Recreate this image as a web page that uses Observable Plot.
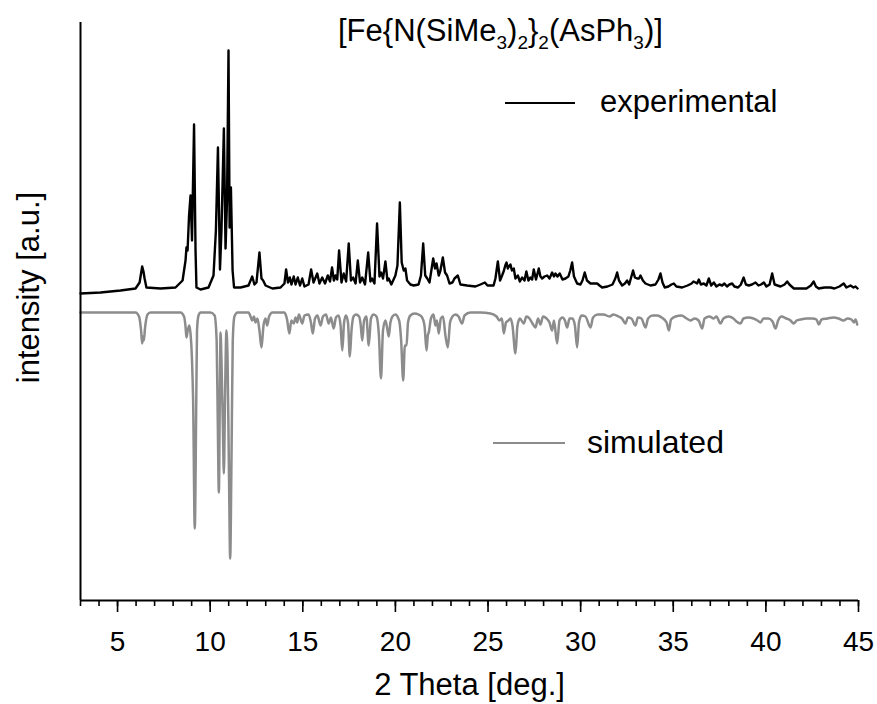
<!DOCTYPE html>
<html>
<head>
<meta charset="utf-8">
<script src="https://cdn.jsdelivr.net/npm/d3@7"></script>
<script src="https://cdn.jsdelivr.net/npm/@observablehq/plot@0.6"></script>
<style>
  html, body { margin: 0; padding: 0; background: #fff; }
  #wrap { position: relative; width: 877px; height: 704px; font-family: "Liberation Sans", Arial, sans-serif; color: #000; }
  .ovl { position: absolute; white-space: nowrap; line-height: 1; }
  .title { font-size: 31px; }
  .title sub { font-size: 19px; vertical-align: -8px; line-height: 0; }
  .leg { font-size: 31px; }
  .swatch { position: absolute; height: 2px; }
</style>
</head>
<body>
<div id="wrap">
  <div id="chart"></div>
  <div class="ovl title" style="left:338px; top:15px;">[Fe{N(SiMe<sub>3</sub>)<sub>2</sub>}<sub>2</sub>(AsPh<sub>3</sub>)]</div>
  <div class="swatch" style="left:505px; top:102px; width:70px; background:#000;"></div>
  <div class="ovl leg" id="legExp" style="left:600px; top:86px;"></div>
  <div class="swatch" style="left:493px; top:442px; width:72px; background:#8c8c8c;"></div>
  <div class="ovl leg" id="legSim" style="left:587px; top:426px; font-size:32px;"></div>
</div>
<script>
// ---- data: [2 theta (deg), intensity (a.u.)] ----
const seriesNames = ["experimental", "simulated"];

const experimental = [[3.00,307],[4.08,308],[5.16,310],[5.97,312],[6.19,318],[6.33,334],[6.40,329],[6.46,322],[6.56,313],[7.32,312],[8.13,313],[8.51,320],[8.67,340],[8.72,353],[8.78,350],[8.86,385],[8.94,405],[9.02,360],[9.13,476],[9.21,350],[9.26,313],[9.48,311],[9.91,313],[10.18,325],[10.31,370],[10.42,453],[10.53,331],[10.61,370],[10.74,472],[10.83,352],[10.91,400],[10.99,550],[11.05,373],[11.12,413],[11.21,330],[11.29,313],[11.64,313],[12.07,315],[12.27,324],[12.39,316],[12.50,318],[12.66,348],[12.77,322],[12.86,320],[12.99,315],[13.36,312],[13.80,313],[14.01,317],[14.10,331],[14.20,318],[14.30,323],[14.39,316],[14.51,324],[14.61,316],[14.73,323],[14.85,315],[14.97,322],[15.09,314],[15.31,316],[15.45,331],[15.58,318],[15.78,327],[15.90,317],[16.05,323],[16.20,317],[16.35,325],[16.47,319],[16.58,333],[16.68,320],[16.77,325],[16.86,321],[16.96,350],[17.09,318],[17.21,327],[17.34,319],[17.48,357],[17.60,320],[17.72,323],[17.85,317],[17.97,340],[18.09,318],[18.21,323],[18.36,316],[18.53,348],[18.65,319],[18.74,322],[18.87,317],[19.01,377],[19.14,324],[19.23,328],[19.33,322],[19.46,339],[19.57,320],[19.64,322],[19.78,316],[20.00,325],[20.11,335],[20.24,398],[20.34,338],[20.45,330],[20.54,332],[20.63,320],[20.81,316],[20.99,315],[21.25,316],[21.38,325],[21.50,357],[21.61,325],[21.72,322],[21.84,318],[22.04,342],[22.14,332],[22.22,337],[22.34,325],[22.43,330],[22.56,343],[22.68,328],[22.79,325],[22.92,317],[23.08,318],[23.19,322],[23.37,325],[23.51,316],[23.87,315],[24.32,314],[24.59,316],[24.83,318],[24.97,315],[25.30,315],[25.40,322],[25.53,339],[25.65,320],[25.76,325],[25.86,330],[25.93,335],[26.00,338],[26.07,332],[26.13,334],[26.21,336],[26.29,330],[26.39,332],[26.48,322],[26.61,325],[26.72,319],[26.84,323],[26.97,320],[27.07,329],[27.18,320],[27.29,323],[27.38,321],[27.47,331],[27.59,321],[27.74,332],[27.83,324],[27.92,322],[28.05,324],[28.19,325],[28.32,322],[28.46,328],[28.56,324],[28.64,327],[28.75,324],[28.87,327],[29.02,321],[29.18,322],[29.34,324],[29.44,330],[29.54,338],[29.64,324],[29.81,317],[29.99,316],[30.10,320],[30.22,328],[30.34,320],[30.53,317],[30.69,317],[30.89,317],[31.02,315],[31.16,313],[31.45,314],[31.72,316],[31.87,322],[31.97,328],[32.07,320],[32.24,315],[32.39,317],[32.51,320],[32.62,316],[32.74,324],[32.83,330],[32.93,323],[33.05,322],[33.15,322],[33.23,325],[33.36,320],[33.50,317],[33.77,315],[34.04,316],[34.20,321],[34.31,327],[34.42,318],[34.54,313],[34.74,314],[34.90,316],[35.03,317],[35.17,314],[35.48,313],[35.77,315],[35.99,317],[36.09,319],[36.20,318],[36.29,317],[36.38,321],[36.49,316],[36.65,317],[36.79,315],[36.92,322],[37.05,315],[37.19,318],[37.33,314],[37.49,316],[37.64,315],[37.76,317],[37.90,314],[38.03,316],[38.18,317],[38.30,314],[38.50,313],[38.65,316],[38.80,323],[38.92,316],[39.08,315],[39.25,316],[39.44,318],[39.60,315],[39.74,316],[39.89,318],[40.03,314],[40.20,316],[40.34,327],[40.47,316],[40.79,314],[41.01,316],[41.15,319],[41.27,316],[41.51,312],[41.87,312],[42.19,312],[42.43,315],[42.58,319],[42.70,314],[42.85,312],[43.16,313],[43.49,313],[43.70,312],[43.97,314],[44.20,317],[44.35,313],[44.57,315],[44.73,313],[44.84,314],[44.95,312]];

const simulated = [[3.00,288],[5.97,288],[6.16,284],[6.27,270],[6.33,257],[6.37,264],[6.42,260],[6.48,272],[6.62,286],[6.78,288],[8.40,288],[8.59,284],[8.67,274],[8.72,263],[8.79,270],[8.87,275],[8.94,267],[9.02,240],[9.08,200],[9.17,72],[9.24,180],[9.29,270],[9.37,285],[9.48,288],[10.02,288],[10.24,285],[10.35,260],[10.41,180],[10.47,108],[10.52,200],[10.56,268],[10.61,240],[10.69,170],[10.74,127],[10.80,200],[10.88,270],[10.94,240],[11.02,120],[11.08,42],[11.15,140],[11.22,260],[11.31,284],[11.48,288],[12.07,288],[12.20,283],[12.27,280],[12.36,284],[12.45,278],[12.55,282],[12.66,270],[12.77,253],[12.88,275],[12.99,282],[13.08,275],[13.18,284],[13.36,288],[14.01,288],[14.14,282],[14.28,267],[14.38,280],[14.51,277],[14.61,283],[14.70,278],[14.79,286],[14.97,277],[15.09,285],[15.31,286],[15.44,278],[15.54,267],[15.66,282],[15.79,285],[15.96,275],[16.09,284],[16.25,286],[16.40,277],[16.52,283],[16.67,272],[16.79,283],[16.93,285],[17.04,275],[17.13,250],[17.23,278],[17.33,285],[17.44,278],[17.54,244],[17.63,270],[17.74,284],[17.87,286],[18.04,284],[18.13,275],[18.21,260],[18.31,280],[18.43,284],[18.56,255],[18.68,282],[18.82,286],[18.98,284],[19.11,265],[19.22,222],[19.33,270],[19.46,280],[19.54,274],[19.64,264],[19.73,278],[19.84,284],[20.00,286],[20.16,282],[20.23,277],[20.31,260],[20.42,220],[20.51,255],[20.60,255],[20.68,278],[20.81,285],[21.03,287],[21.25,286],[21.41,284],[21.57,275],[21.68,250],[21.75,265],[21.80,268],[21.92,282],[22.06,286],[22.16,275],[22.24,280],[22.34,267],[22.45,282],[22.57,284],[22.70,265],[22.83,253],[22.95,278],[23.08,284],[23.24,286],[23.41,284],[23.60,277],[23.73,285],[24.05,288],[24.59,288],[25.13,287],[25.46,284],[25.62,280],[25.75,282],[25.85,267],[25.97,278],[26.10,280],[26.21,282],[26.32,275],[26.48,247],[26.59,275],[26.72,282],[26.93,277],[27.07,284],[27.24,282],[27.40,277],[27.56,273],[27.70,282],[27.83,276],[27.97,284],[28.16,282],[28.32,278],[28.46,270],[28.56,280],[28.73,257],[28.86,280],[29.02,283],[29.15,280],[29.27,273],[29.40,282],[29.56,282],[29.69,275],[29.81,253],[29.91,278],[30.05,285],[30.26,284],[30.53,273],[30.67,283],[30.91,286],[31.23,286],[31.56,284],[31.77,286],[32.04,284],[32.23,282],[32.42,277],[32.55,283],[32.74,282],[32.96,275],[33.09,283],[33.28,282],[33.50,273],[33.64,282],[33.88,285],[34.15,285],[34.37,283],[34.64,278],[34.76,270],[34.88,281],[35.12,284],[35.44,285],[35.72,282],[35.93,280],[36.15,282],[36.37,280],[36.56,272],[36.69,282],[36.96,284],[37.18,282],[37.33,284],[37.55,277],[37.71,282],[37.98,284],[38.25,282],[38.41,279],[38.63,277],[38.79,282],[39.06,283],[39.33,282],[39.55,280],[39.71,278],[39.87,282],[40.14,282],[40.36,279],[40.52,272],[40.66,280],[40.84,284],[41.11,282],[41.33,280],[41.50,277],[41.66,280],[41.87,281],[42.19,282],[42.52,282],[42.73,281],[42.86,276],[43.00,281],[43.33,282],[43.65,283],[43.92,282],[44.19,280],[44.41,282],[44.62,281],[44.75,278],[44.84,281],[44.93,276]];

const majorTicks = [5, 10, 15, 20, 25, 30, 35, 40, 45];
const minorTicks = [3,4,5,6,7,8,9,10,11,12,13,14,15,16,17,18,19,20,21,22,23,24,25,26,27,28,29,30,31,32,33,34,35,36,37,38,39,40,41,42,43,44,45];
const xLabel = "2 Theta [deg.]";
const yLabel = "intensity [a.u.]";

const toRows = (arr) => arr.map(([theta, intensity]) => ({theta, intensity}));
const expRows = toRows(experimental);
const simRows = toRows(simulated);

document.getElementById("legExp").textContent = seriesNames[0];
document.getElementById("legSim").textContent = seriesNames[1];

const chart = Plot.plot({
  width: 877,
  height: 704,
  marginLeft: 80,
  marginRight: 19,
  marginTop: 22,
  marginBottom: 104,
  x: {domain: [3, 45], axis: null},
  y: {domain: [0, 578], axis: null},
  style: {fontFamily: '"Liberation Sans", Arial, sans-serif', fontSize: "27px", color: "#000", background: "#fff", overflow: "visible"},
  marks: [
    Plot.line(simRows, {x: "theta", y: "intensity", stroke: "#8c8c8c", strokeWidth: 2.5, curve: "monotone-x"}),
    Plot.line(expRows, {x: "theta", y: "intensity", stroke: "#000", strokeWidth: 2.4, strokeLinejoin: "round"}),
    Plot.axisX({ticks: minorTicks, tickSize: 6, tickFormat: () => "", strokeWidth: 1.6, label: null}),
    Plot.axisX({ticks: majorTicks, tickSize: 12, tickPadding: 19, fontSize: 28, strokeWidth: 1.6, label: null}),
    Plot.text([xLabel], {frameAnchor: "bottom", textAnchor: "middle", dy: 94, fontSize: 31}),
    Plot.ruleY([0], {strokeWidth: 2}),
    Plot.ruleX([3], {strokeWidth: 2}),
    Plot.text([yLabel], {frameAnchor: "left", rotate: -90, textAnchor: "middle", dx: -51, dy: -24, fontSize: 31})
  ]
});
document.getElementById("chart").appendChild(chart);
</script>
</body>
</html>
